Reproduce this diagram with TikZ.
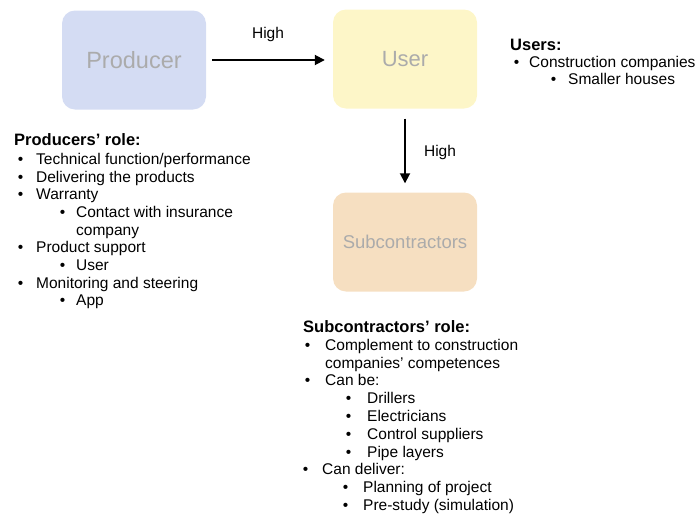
\documentclass[tikz,border=0pt]{standalone}
\usepackage{fontspec}
\setmainfont{Liberation Sans}
\usetikzlibrary{arrows.meta}
\newcommand{\itm}[1]{\llap{\textbullet\hspace{#1}}}
\definecolor{prodfill}{HTML}{D4DCF3}
\definecolor{userfill}{HTML}{FDF6C8}
\definecolor{subfill}{HTML}{F6DFC1}
\definecolor{boxtext}{HTML}{ABABAB}
\begin{document}
\begin{tikzpicture}[x=1pt,y=-1pt,
  box/.style={rounded corners=13pt, minimum width=144pt, minimum height=99pt, inner sep=0pt, text=boxtext, font=\fontsize{22}{26}\selectfont},
  txt/.style={anchor=base west, inner sep=0pt, font=\fontsize{15.5}{18}\selectfont},
  head/.style={txt, font=\fontsize{16.5}{19}\selectfont\bfseries},
  lbl/.style={inner sep=0pt, font=\fontsize{15.5}{18}\selectfont},
  arr/.style={line width=1.8pt, -{Triangle[length=10pt,width=10pt]}}]
\useasboundingbox (0,0) rectangle (698,517);
% boxes
\node[box, fill=prodfill, font=\fontsize{23.5}{27}\selectfont] (prod) at (134,60) {Producer};
\node[box, fill=userfill] (user) at (405,59) {User};
\node[box, fill=subfill, font=\fontsize{18.5}{22}\selectfont] (sub) at (405,242) {Subcontractors};
% arrows
\draw[arr, shorten <=6pt, shorten >=8pt] (prod.east |- 0,60) -- (user.west |- 0,60);
\node[lbl] (h1) at (268,34) {High};
\draw[arr, shorten <=10pt, shorten >=9pt] (user.south) -- (sub.north);
\node[lbl] (h2) at (440,152) {High};
% users
\node[head] (uh) at (510,50) {Users:};
\node[txt] (u1) at (529,67) {\itm{10pt}Construction companies};
\node[txt] (u2) at (568,84) {\itm{12pt}Smaller houses};
% producers role
\node[head] (ph) at (14,145) {Producers’ role:};
\node[txt] (p1) at (36,164) {\itm{13pt}Technical function/performance};
\node[txt] (p2) at (36,182) {\itm{13pt}Delivering the products};
\node[txt] (p3) at (36,199) {\itm{13pt}Warranty};
\node[txt] (p4) at (76,217) {\itm{11pt}Contact with insurance};
\node[txt] (p5) at (76,235) {company};
\node[txt] (p6) at (36,252) {\itm{13pt}Product support};
\node[txt] (p7) at (76,270) {\itm{11pt}User};
\node[txt] (p8) at (36,288) {\itm{13pt}Monitoring and steering};
\node[txt] (p9) at (76,305) {\itm{11pt}App};
% subcontractors role
\node[head] (sh) at (303,332) {Subcontractors’ role:};
\node[txt] (s1) at (325,350) {\itm{15pt}Complement to construction};
\node[txt] (s2) at (325,368) {companies’ competences};
\node[txt] (s3) at (325,385) {\itm{15pt}Can be:};
\node[txt] (s4) at (367,403) {\itm{16pt}Drillers};
\node[txt] (s5) at (367,421) {\itm{16pt}Electricians};
\node[txt] (s6) at (367,439) {\itm{16pt}Control suppliers};
\node[txt] (s7) at (367,457) {\itm{16pt}Pipe layers};
\node[txt] (s8) at (322,474) {\itm{14pt}Can deliver:};
\node[txt] (s9) at (363,492) {\itm{15pt}Planning of project};
\node[txt] (s10) at (363,510) {\itm{15pt}Pre-study (simulation)};
\end{tikzpicture}
\end{document}
